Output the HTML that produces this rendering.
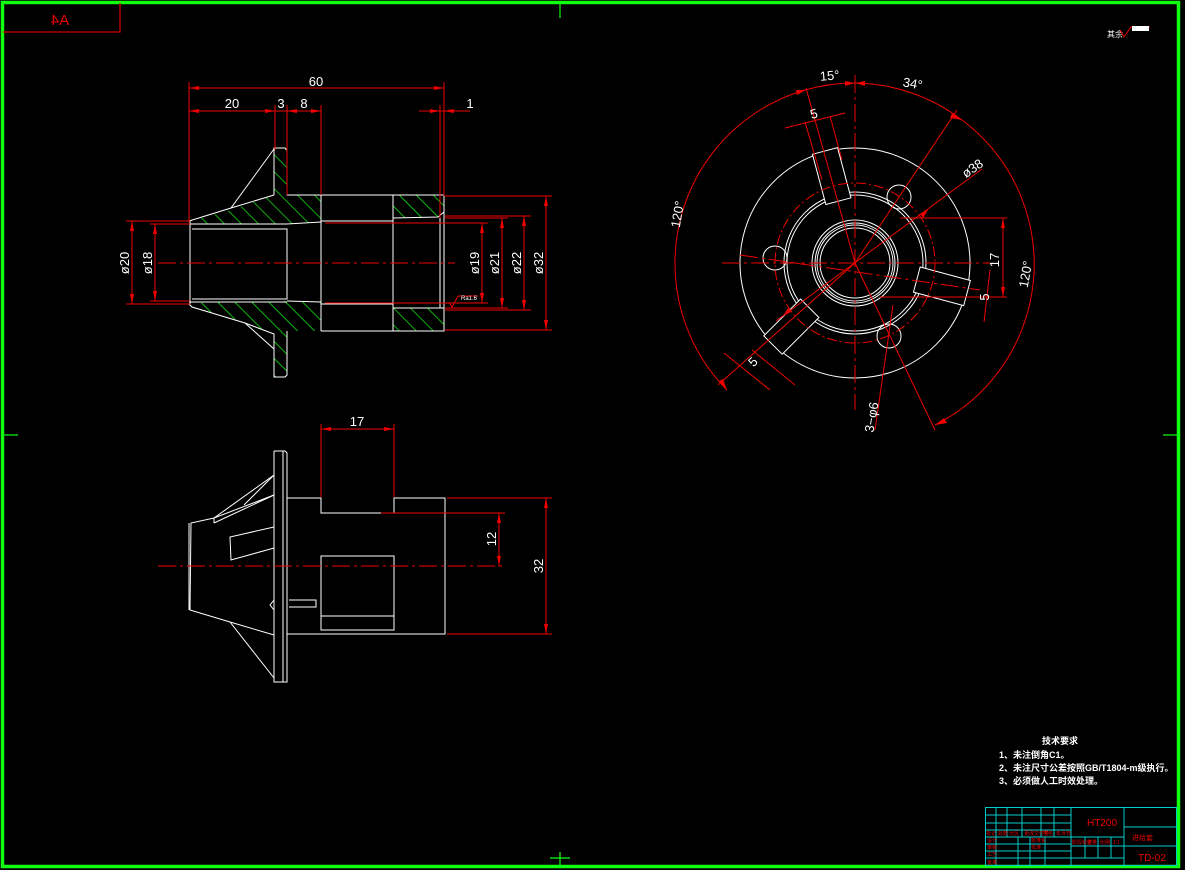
<!DOCTYPE html>
<html><head><meta charset="utf-8"><style>
html,body{margin:0;padding:0;background:#000;width:1185px;height:870px;overflow:hidden}
svg{display:block}
text{font-family:"Liberation Sans","Noto Sans CJK SC",sans-serif}
</style></head><body>
<svg width="1185" height="870" viewBox="0 0 1185 870" xmlns="http://www.w3.org/2000/svg">
<defs>
<pattern id="h" patternUnits="userSpaceOnUse" width="12" height="12" patternTransform="rotate(-45)">
<line x1="0" y1="0" x2="0" y2="12" stroke="#1e1" stroke-width="1.5"/>
</pattern>
</defs>
<rect width="1185" height="870" fill="#000"/>
<rect x="2.5" y="2.5" width="1176" height="864" fill="none" stroke="#1f1" stroke-width="3.5"/>
<polyline points="3,32 120,32 120,3" fill="none" stroke="#c00" stroke-width="1.3"/>
<text x="60" y="25" fill="#e00" font-size="15" text-anchor="middle" transform="translate(120,0) scale(-1,1)">A4</text>
<g stroke="#1f1" stroke-width="1.2">
<line x1="560" y1="4" x2="560" y2="18"/><line x1="4" y1="435" x2="18" y2="435"/><line x1="1163" y1="435" x2="1177" y2="435"/>
<line x1="560" y1="852" x2="560" y2="866"/><line x1="550" y1="858" x2="570" y2="858"/>
</g>
<text x="1107" y="37" fill="#fff" font-size="8">其余</text>
<polyline points="1120,30 1124,37 1131,27 1150,27" fill="none" stroke="#e00" stroke-width="1"/>
<rect x="1132" y="26" width="17" height="5" fill="#fff"/>

<g fill="url(#h)" stroke="none">
<polygon points="191,221 231,210 274,195 274,149 287,149 287,195 321,195 321,222 287,224 191,224"/>
<polygon points="191,303 287,301 321,302 321,331 287,331 287,377 274,377 274,334 245,322 191,307"/>
<polygon points="393,195 444,195 444,212 438,217 393,218"/>
<polygon points="393,308 444,308 444,331 393,331"/>
</g>
<g fill="none" stroke="#fff" stroke-width="1">
<polyline points="189,221 231,208 274,195"/>
<line x1="231" y1="208" x2="274" y2="149"/>
<polyline points="274,195 274,148 285,148 287,150 287,195 321,195"/>
<polyline points="321,195 393,195 444,195 444,331 393,331 321,331"/>
<line x1="321" y1="195" x2="321" y2="331"/>
<line x1="393" y1="195" x2="393" y2="331"/>
<line x1="440" y1="218" x2="440" y2="308"/>
<polyline points="393,218 438,217 444,212"/>
<line x1="393" y1="308" x2="444" y2="308"/>
<line x1="321" y1="221" x2="393" y2="221"/><line x1="321" y1="304" x2="393" y2="304"/>
<polyline points="190,221 190,304"/>
<polyline points="192,229 287,229 287,299 192,299"/>
<line x1="189" y1="224" x2="287" y2="224"/><line x1="189" y1="302" x2="287" y2="302"/>
<polyline points="189,304 192,307 245,323 274,334 274,377 285,377 287,375 287,331"/>
<line x1="245" y1="323" x2="274" y2="349"/>
<polyline points="287,224 321,222"/><polyline points="287,301 321,302"/>
</g>
<g stroke="#e00" stroke-width="1" fill="none">
<line x1="158" y1="263" x2="455" y2="263" stroke-dasharray="18,4,3,4"/>
<line x1="189" y1="82" x2="189" y2="222"/><line x1="444" y1="82" x2="444" y2="196"/>
<line x1="275" y1="105" x2="275" y2="150"/><line x1="287" y1="105" x2="287" y2="195"/><line x1="321" y1="105" x2="321" y2="195"/>
<line x1="440" y1="105" x2="440" y2="218"/>
<line x1="189" y1="88" x2="444" y2="88"/>
<line x1="189" y1="111" x2="321" y2="111"/>
<line x1="419" y1="111" x2="470" y2="111"/>
<line x1="126" y1="221" x2="190" y2="221"/><line x1="126" y1="304" x2="190" y2="304"/>
<line x1="150" y1="224" x2="190" y2="224"/><line x1="150" y1="301" x2="190" y2="301"/>
<line x1="132" y1="221" x2="132" y2="304"/><line x1="155" y1="224" x2="155" y2="301"/>
<line x1="325" y1="223" x2="488" y2="223"/><line x1="325" y1="303" x2="488" y2="303"/>
<line x1="445" y1="218" x2="508" y2="218"/><line x1="445" y1="308" x2="508" y2="308"/>
<line x1="445" y1="216" x2="531" y2="216"/><line x1="445" y1="310" x2="531" y2="310"/>
<line x1="445" y1="196" x2="552" y2="196"/><line x1="445" y1="330" x2="552" y2="330"/>
<line x1="482" y1="223" x2="482" y2="303"/><line x1="502" y1="218" x2="502" y2="308"/>
<line x1="524" y1="216" x2="524" y2="310"/><line x1="546" y1="196" x2="546" y2="330"/>
<polyline points="449,302 452,307 458,296 478,296"/>
</g>
<g fill="#e00">
<polygon points="189,88 199,86 199,90"/><polygon points="444,88 434,86 434,90"/>
<polygon points="189,111 199,109 199,113"/><polygon points="275,111 265,109 265,113"/>
<polygon points="287,111 297,109 297,113"/><polygon points="321,111 311,109 311,113"/>
<polygon points="440,111 430,109 430,113"/><polygon points="444,111 454,109 454,113"/>
<polygon points="132,221 130,231 134,231"/><polygon points="132,304 130,294 134,294"/>
<polygon points="155,224 153,234 157,234"/><polygon points="155,301 153,291 157,291"/>
<polygon points="482,223 480,233 484,233"/><polygon points="482,303 480,293 484,293"/>
<polygon points="502,218 500,228 504,228"/><polygon points="502,308 500,298 504,298"/>
<polygon points="524,216 522,226 526,226"/><polygon points="524,310 522,300 526,300"/>
<polygon points="546,196 544,206 548,206"/><polygon points="546,330 544,320 548,320"/>
</g>
<g fill="#fff" font-size="13">
<text x="316" y="86" text-anchor="middle">60</text>
<text x="232" y="108" text-anchor="middle">20</text>
<text x="281" y="108" text-anchor="middle">3</text>
<text x="304" y="108" text-anchor="middle">8</text>
<text x="470" y="108" text-anchor="middle">1</text>
<text transform="translate(129,263) rotate(-90)" text-anchor="middle">ø20</text>
<text transform="translate(152,263) rotate(-90)" text-anchor="middle">ø18</text>
<text transform="translate(479,263) rotate(-90)" text-anchor="middle">ø19</text>
<text transform="translate(499,263) rotate(-90)" text-anchor="middle">ø21</text>
<text transform="translate(521,263) rotate(-90)" text-anchor="middle">ø22</text>
<text transform="translate(543,263) rotate(-90)" text-anchor="middle">ø32</text>
<text x="461" y="300" font-size="6">Ra1.6</text>
</g>

<g fill="none" stroke="#fff" stroke-width="1">
<circle cx="855" cy="263" r="115"/>
<circle cx="855" cy="263" r="71"/><circle cx="855" cy="263" r="68"/>
<circle cx="855" cy="263" r="43"/><circle cx="855" cy="263" r="40"/>
<circle cx="855" cy="263" r="38"/><circle cx="855" cy="263" r="35"/>
<circle cx="899" cy="197" r="12"/><circle cx="775" cy="258" r="12"/><circle cx="889" cy="336" r="12"/>
</g>
<g fill="#000" stroke="#fff" stroke-width="1">
<g transform="translate(855,263) rotate(-105)"><rect x="64" y="-13" width="52" height="26"/></g>
<g transform="translate(855,263) rotate(15)"><rect x="64" y="-13" width="52" height="26"/></g>
<g transform="translate(855,263) rotate(135)"><rect x="64" y="-13" width="52" height="26"/></g>
</g>
<g stroke="#e00" stroke-width="1" fill="none">
<circle cx="855" cy="263" r="80" stroke-dasharray="10,3,2,3"/>
<line x1="855" y1="75" x2="855" y2="410" stroke-dasharray="18,4,3,4"/>
<line x1="722" y1="263" x2="990" y2="263" stroke-dasharray="18,4,3,4"/>
<line x1="740" y1="255" x2="980" y2="290" stroke-dasharray="18,4,3,4"/>
<line x1="855" y1="263" x2="935" y2="430"/>
<line x1="855" y1="263" x2="806" y2="88"/>
<line x1="855" y1="263" x2="957" y2="110"/>
<line x1="855" y1="263" x2="718" y2="385"/>
<line x1="776" y1="321" x2="982" y2="169"/>
<path d="M 675 263 A 180 180 0 0 0 727 390"/>
<path d="M 675 263 A 180 180 0 0 1 805 90"/>
<path d="M 805 90 A 180 180 0 0 1 855 83"/>
<path d="M 855 83 A 180 180 0 0 1 962 120"/>
<path d="M 962 120 A 180 180 0 0 1 935 425"/>
<line x1="785" y1="128" x2="845" y2="113"/>
<line x1="805" y1="122" x2="822" y2="180"/><line x1="830" y1="116" x2="842" y2="160"/>
<line x1="900" y1="218" x2="1007" y2="218"/><line x1="880" y1="297" x2="1007" y2="297"/>
<line x1="1003" y1="218" x2="1003" y2="297"/>
<line x1="990" y1="270" x2="984" y2="322"/>
<line x1="724" y1="353" x2="770" y2="390"/><line x1="752" y1="350" x2="795" y2="385"/>
<line x1="893" y1="305" x2="875" y2="430"/>
</g>
<g fill="#e00">
<polygon points="1003,218 1001,228 1005,228"/><polygon points="1003,297 1001,287 1005,287"/>
<polygon points="855,83 845,81 845,86"/><polygon points="855,83 865,81 865,86"/>
<polygon points="962,120 952,113 950,118"/><polygon points="935,425 944,418 947,423"/>
<polygon points="727,390 719,381 723,379"/>
<polygon points="806,90 796,90 797,95"/>
<polygon points="928,210 920,214 923,218"/><polygon points="783,316 791,312 788,308"/>
</g>
<g fill="#fff" font-size="13">
<text x="830" y="80" text-anchor="middle" transform="rotate(-5 830 80)">15°</text>
<text x="912" y="88" text-anchor="middle" transform="rotate(10 912 88)">34°</text>
<text x="815" y="118" text-anchor="middle" transform="rotate(-15 815 118)">5</text>
<text x="975" y="172" text-anchor="middle" transform="rotate(-35 975 172)">ø38</text>
<text transform="translate(682,215) rotate(-80)" text-anchor="middle">120°</text>
<text transform="translate(1030,275) rotate(-80)" text-anchor="middle">120°</text>
<text transform="translate(999,260) rotate(-90)" text-anchor="middle">17</text>
<text transform="translate(989,297) rotate(-90)" text-anchor="middle">5</text>
<text transform="translate(756,365) rotate(-45)" text-anchor="middle">5</text>
<text transform="translate(876,418) rotate(-80)" text-anchor="middle">3−φ6</text>
</g>

<g fill="none" stroke="#fff" stroke-width="1">
<polyline points="274,451 285,451 287,453 287,682 274,682 274,451"/>
<line x1="283" y1="451" x2="283" y2="682"/>
<polyline points="287,498 316,498 321,498 321,513 394,513 394,498 445,498 445,634 287,634"/>
<rect x="321" y="556" width="73" height="74"/>
<line x1="321" y1="616" x2="394" y2="616"/>
<polyline points="289,600 316,600 316,607 289,607"/>
<polyline points="274,495 214,518 191,523 190,610 230,622 274,635"/>
<line x1="189" y1="523" x2="189" y2="610"/>
<line x1="214" y1="518" x2="214" y2="523"/>
<polyline points="214,523 274,495"/>
<line x1="214" y1="518" x2="274" y2="475"/><line x1="244" y1="505" x2="274" y2="475"/>
<polyline points="274,527 230,537 231,560 274,548"/>
<line x1="230" y1="622" x2="274" y2="678"/>
<polyline points="274,600 270,605 274,610"/>
</g>
<g stroke="#e00" stroke-width="1" fill="none">
<line x1="158" y1="566" x2="505" y2="566" stroke-dasharray="18,4,3,4"/>
<line x1="321" y1="424" x2="321" y2="497"/><line x1="394" y1="424" x2="394" y2="497"/>
<line x1="321" y1="429" x2="394" y2="429"/>
<line x1="381" y1="513" x2="505" y2="513"/>
<line x1="499" y1="513" x2="499" y2="566"/>
<line x1="447" y1="498" x2="552" y2="498"/><line x1="447" y1="634" x2="552" y2="634"/>
<line x1="546" y1="498" x2="546" y2="634"/>
</g>
<g fill="#e00">
<polygon points="321,429 331,427 331,431"/><polygon points="394,429 384,427 384,431"/>
<polygon points="499,513 497,523 501,523"/><polygon points="499,566 497,556 501,556"/>
<polygon points="546,498 544,508 548,508"/><polygon points="546,634 544,624 548,624"/>
</g>
<g fill="#fff" font-size="13">
<text x="357" y="426" text-anchor="middle">17</text>
<text transform="translate(496,539) rotate(-90)" text-anchor="middle">12</text>
<text transform="translate(543,566) rotate(-90)" text-anchor="middle">32</text>
</g>

<g fill="#fff" font-size="9" font-weight="bold">
<text x="1042" y="744">技术要求</text>
<text x="999" y="758">1、未注倒角C1。</text>
<text x="999" y="771">2、未注尺寸公差按照GB/T1804-m级执行。</text>
<text x="999" y="784">3、必须做人工时效处理。</text>
</g>

<g stroke="#0cc" stroke-width="1" fill="none">
<rect x="985.5" y="807.5" width="191" height="58"/>
<line x1="1071" y1="807" x2="1071" y2="866"/>
<line x1="1124" y1="807" x2="1124" y2="866"/>
<line x1="1124" y1="827" x2="1177" y2="827"/>
<line x1="1124" y1="846" x2="1177" y2="846"/>
<line x1="985" y1="815" x2="1071" y2="815"/>
<line x1="985" y1="823" x2="1071" y2="823"/>
<line x1="985" y1="830" x2="1071" y2="830"/>
<line x1="985" y1="837" x2="1071" y2="837"/>
<line x1="985" y1="844" x2="1071" y2="844"/>
<line x1="985" y1="851" x2="1071" y2="851"/>
<line x1="985" y1="858" x2="1071" y2="858"/>
<line x1="996" y1="807" x2="996" y2="866"/>
<line x1="1007" y1="807" x2="1007" y2="837"/>
<line x1="1022" y1="807" x2="1022" y2="837"/>
<line x1="1041" y1="807" x2="1041" y2="837"/>
<line x1="1054" y1="807" x2="1054" y2="837"/>
<line x1="1018" y1="837" x2="1018" y2="866"/>
<line x1="1030" y1="837" x2="1030" y2="866"/>
<line x1="1045" y1="837" x2="1045" y2="866"/>
<line x1="1071" y1="837" x2="1124" y2="837"/>
<line x1="1071" y1="846" x2="1124" y2="846"/>
<line x1="1071" y1="858" x2="1124" y2="858"/>
<line x1="1085" y1="837" x2="1085" y2="858"/>
<line x1="1098" y1="837" x2="1098" y2="858"/>
<line x1="1111" y1="837" x2="1111" y2="858"/>
</g>
<g fill="#e00" font-size="5">
<text x="1087" y="826" font-size="10">HT200</text>
<text x="1132" y="840" font-size="7">进给套</text>
<text x="1138" y="861" font-size="10">TD-02</text>
<text x="986" y="835">标记</text><text x="998" y="835">处数</text><text x="1009" y="835">分区</text><text x="1024" y="835">更改文件号</text><text x="1043" y="835">签名</text><text x="1056" y="835">年月日</text>
<text x="987" y="842">设计</text><text x="987" y="849">审核</text><text x="987" y="856">工艺</text><text x="987" y="864">批准</text>
<text x="1031" y="842">标准化</text><text x="1031" y="849">批准</text>
<text x="1072" y="844">阶段标记</text><text x="1087" y="844">重量</text><text x="1100" y="844">比例</text><text x="1113" y="844">1:1</text>
</g>
</svg>
</body></html>
